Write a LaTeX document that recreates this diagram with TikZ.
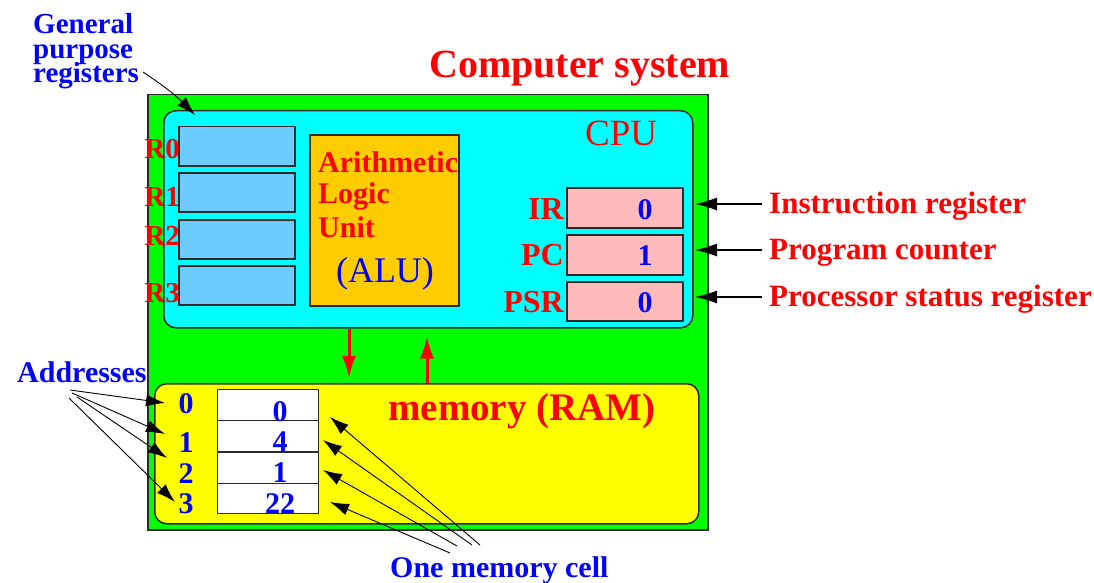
\documentclass[tikz,border=0pt]{standalone}
\usepackage{fontspec}
\setmainfont{Liberation Serif}
\usetikzlibrary{arrows.meta}

\definecolor{sysgreen}{HTML}{00FF00}
\definecolor{cpucyan}{HTML}{00FFFF}
\definecolor{regblue}{HTML}{6CCCFF}
\definecolor{alugold}{HTML}{FFCC00}
\definecolor{regpink}{HTML}{FFBBBB}
\definecolor{memyellow}{HTML}{FFFF00}
\definecolor{lblred}{HTML}{FF0000}
\definecolor{lblblue}{HTML}{0000FF}
\definecolor{edge}{HTML}{2A2A2A}

% font size in pt with matching baseline skip
\newcommand{\fsz}[1]{\fontsize{#1}{#1}\selectfont}
% tightly stacked lines: fixed baseline distance even when glyphs touch
\newcommand{\tightstack}{\fontsize{29}{24.3}\selectfont\lineskiplimit=-100pt\relax}

\begin{document}
\begin{tikzpicture}[x=1pt,y=-1pt,
  panel/.style={draw=edge, line width=1.5pt, inner sep=0pt, anchor=north west},
  cell/.style={draw=edge, line width=1.2pt, inner sep=0pt, anchor=north west, fill=white,
               minimum width=101pt, minimum height=31pt},
  redtxt/.style={text=lblred, inner sep=0pt, font=\bfseries\fsz{30}},
  bluetxt/.style={text=lblblue, inner sep=0pt, font=\bfseries\fsz{30}},
  pointer/.style={draw=black, line width=0.9pt, -{Latex[length=19pt,width=12pt]}},
  sidepointer/.style={draw=black, line width=1.1pt, -{Latex[length=22pt,width=13pt]}},
  bus/.style={draw=lblred, line width=3pt, -{Latex[length=22pt,width=14pt]}},
]
\useasboundingbox (0,0) rectangle (1094,583);

% ---- enclosing boxes ----
\node[panel, fill=sysgreen, minimum width=560pt, minimum height=435pt] (sys) at (147,94) {};
\node[panel, fill=cpucyan, rounded corners=12pt, minimum width=529pt, minimum height=217pt] (cpu) at (163,110) {};
\node[panel, fill=memyellow, rounded corners=12pt, minimum width=544pt, minimum height=140pt] (mem) at (154,383) {};

% ---- general purpose registers ----
\node[panel, fill=regblue, minimum width=116pt, minimum height=39pt] (r0) at (178,126) {};
\node[panel, fill=regblue, minimum width=116pt, minimum height=39pt] (r1) at (178,172) {};
\node[panel, fill=regblue, minimum width=116pt, minimum height=39pt] (r2) at (178,219) {};
\node[panel, fill=regblue, minimum width=116pt, minimum height=39pt] (r3) at (178,265) {};
\node[redtxt, font=\bfseries\fsz{29}, anchor=base east] (r0lbl) at (180,158) {R0};
\node[redtxt, font=\bfseries\fsz{29}, anchor=base east] (r1lbl) at (180,206) {R1};
\node[redtxt, font=\bfseries\fsz{29}, anchor=base east] (r2lbl) at (180,245) {R2};
\node[redtxt, font=\bfseries\fsz{29}, anchor=base east] (r3lbl) at (180,302) {R3};

% ---- ALU ----
\node[panel, fill=alugold, minimum width=149pt, minimum height=171pt] (alu) at (309,134) {};
\node[redtxt, anchor=base west] (alu1) at (318,172) {Arithmetic};
\node[redtxt, anchor=base west] (alu2) at (318,203) {Logic};
\node[redtxt, anchor=base west] (alu3) at (318,237) {Unit};
\node[bluetxt, font=\fsz{36}, anchor=base] (alu4) at (385,282) {(ALU)};

% ---- special registers ----
\node[panel, fill=regpink, minimum width=116pt, minimum height=40pt] (ir)  at (566,187) {};
\node[panel, fill=regpink, minimum width=116pt, minimum height=40pt] (pc)  at (566,234) {};
\node[panel, fill=regpink, minimum width=116pt, minimum height=39pt] (psr) at (566,281) {};
\node[redtxt, font=\bfseries\fsz{32}, anchor=base east] (irlbl)  at (564,219) {IR};
\node[redtxt, font=\bfseries\fsz{32}, anchor=base east] (pclbl)  at (564,265) {PC};
\node[redtxt, font=\bfseries\fsz{32}, anchor=base east] (psrlbl) at (564,312) {PSR};
\node[bluetxt, anchor=base] (irval)  at (645,219) {0};
\node[bluetxt, anchor=base] (pcval)  at (645,265) {1};
\node[bluetxt, anchor=base] (psrval) at (645,312) {0};

\node[redtxt, font=\fsz{37}, anchor=base west] (cpulbl) at (585,146) {CPU};

% ---- memory ----
\node[cell] (m0) at (217,389) {};
\node[cell] (m1) at (217,420) {};
\node[cell] (m2) at (217,452) {};
\node[cell, minimum height=30pt] (m3) at (217,483) {};
\node[bluetxt, anchor=base] (v0) at (280,421) {0};
\node[bluetxt, anchor=base] (v1) at (280,451) {4};
\node[bluetxt, anchor=base] (v2) at (280,482) {1};
\node[bluetxt, anchor=base] (v3) at (280,513) {22};
\node[bluetxt, anchor=base] (ad0) at (186,413) {0};
\node[bluetxt, anchor=base] (ad1) at (186,452) {1};
\node[bluetxt, anchor=base] (ad2) at (186,483) {2};
\node[bluetxt, anchor=base] (ad3) at (186,513) {3};
\node[redtxt, font=\bfseries\fsz{39}, anchor=base west] (memlbl) at (388,420) {memory (RAM)};

% ---- outside labels ----
\node[redtxt, font=\bfseries\fsz{40}, anchor=base west] (title) at (429,78) {Computer system};
\node[bluetxt, align=left, anchor=north west, font=\bfseries\tightstack]
      (gpr) at (33,13.5) {General\\purpose\\registers};
\node[redtxt, font=\bfseries\fsz{31}, anchor=base west] (irtxt)  at (769,213) {Instruction register};
\node[redtxt, font=\bfseries\fsz{31}, anchor=base west] (pctxt)  at (769,259) {Program counter};
\node[redtxt, font=\bfseries\fsz{31}, anchor=base west] (psrtxt) at (769,306) {Processor status register};
\node[bluetxt, anchor=base west] (addr) at (17,382) {Addresses};
\node[bluetxt, anchor=base west] (cellnote) at (390,577) {One memory cell};

% ---- connector end points ----
\coordinate (gprtail) at (143,72);
\coordinate (gprtip) at (195,115);
\coordinate (irtail) at (762,204);   \coordinate (irtip) at (695,204);
\coordinate (pctail) at (762,250);   \coordinate (pctip) at (695,250);
\coordinate (psrtail) at (762,297);  \coordinate (psrtip) at (695,297);
\coordinate (at0) at (70,390);  \coordinate (ap0) at (165,403);
\coordinate (at1) at (72,393);  \coordinate (ap1) at (165,434);
\coordinate (at2) at (77,397);  \coordinate (ap2) at (167,458);
\coordinate (at3) at (69,398);  \coordinate (ap3) at (175,502);
\coordinate (ct0) at (480,545); \coordinate (cp0) at (330,417);
\coordinate (ct1) at (472,545); \coordinate (cp1) at (323,440);
\coordinate (ct2) at (457,546); \coordinate (cp2) at (323,470);
\coordinate (ct3) at (450,553); \coordinate (cp3) at (330,502);
\coordinate (busdown) at (349,0);
\coordinate (busup) at (427,0);

% ---- connectors ----
\draw[pointer] (gprtail) to[bend left=6] (gprtip);
\draw[sidepointer] (irtail) -- (irtip);
\draw[sidepointer] (pctail) -- (pctip);
\draw[sidepointer] (psrtail) -- (psrtip);
\draw[pointer] (at0) -- (ap0);
\draw[pointer] (at1) -- (ap1);
\draw[pointer] (at2) -- (ap2);
\draw[pointer] (at3) -- (ap3);
\draw[pointer] (ct0) -- (cp0);
\draw[pointer] (ct1) -- (cp1);
\draw[pointer] (ct2) -- (cp2);
\draw[pointer] (ct3) -- (cp3);
\draw[bus] (busdown |- cpu.south) -- ([yshift=5pt]busdown |- mem.north);
\draw[bus] (busup |- mem.north) -- ([yshift=-8pt]busup |- cpu.south);
\end{tikzpicture}
\end{document}
